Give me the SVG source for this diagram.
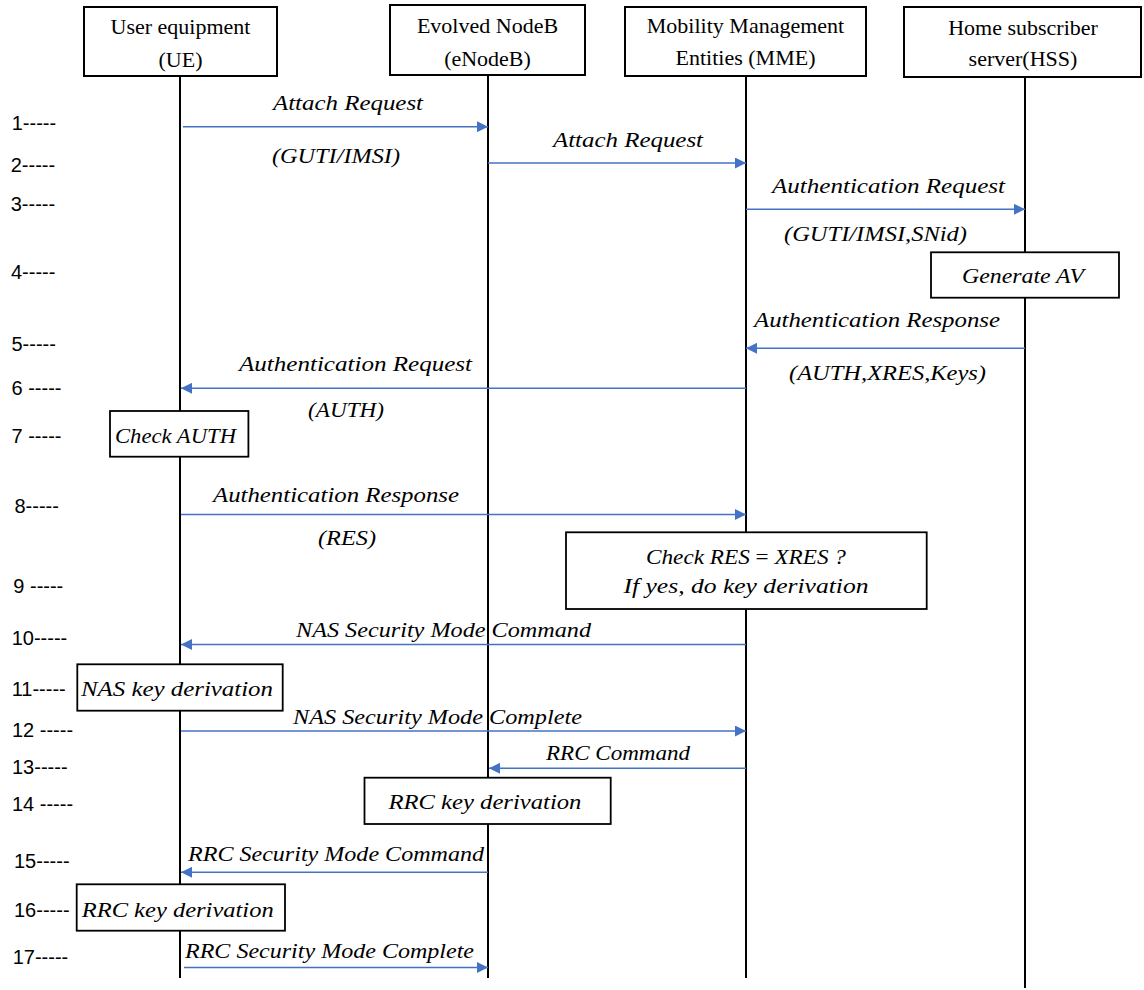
<svg xmlns="http://www.w3.org/2000/svg" width="1144" height="990" viewBox="0 0 1144 990">
<style>
.bg{fill:#ffffff}
.hbox{fill:#ffffff;stroke:#000000;stroke-width:2}
.abox{fill:#ffffff;stroke:#000000;stroke-width:1.8}
.life{stroke:#000000;stroke-width:2;fill:none}
.msg{stroke:#4472C4;stroke-width:1.5;fill:none}
.ht{font-family:"Liberation Serif","Times New Roman",serif;font-size:22px;fill:#000;text-anchor:middle}
.mt{font-family:"Liberation Serif","Times New Roman",serif;font-style:italic;font-size:22px;fill:#000}
.st{font-family:"Liberation Sans",Arial,sans-serif;font-size:20px;fill:#000}
.up{font-style:normal}
</style>
<defs>
<marker id="ah" viewBox="0 0 11 11" refX="11" refY="5.5" markerWidth="11" markerHeight="11" markerUnits="userSpaceOnUse" orient="auto">
<path d="M0,0 L11,5.5 L0,11 z" fill="#4472C4"/>
</marker>
</defs>
<rect class="bg" x="0" y="0" width="1144" height="990"/>

<g id="lifelines">
<line class="life" x1="180" y1="76" x2="180" y2="978"/>
<line class="life" x1="488" y1="75" x2="488" y2="978"/>
<line class="life" x1="746" y1="76" x2="746" y2="978"/>
<line class="life" x1="1025" y1="77" x2="1025" y2="988"/>
</g>

<g id="node-ue">
<rect class="hbox" x="84" y="7" width="193" height="69"/>
<text class="ht" x="180.5" y="34">User equipment</text>
<text class="ht" x="180.5" y="67">(UE)</text>
</g>
<g id="node-enodeb">
<rect class="hbox" x="390" y="5" width="195" height="70"/>
<text class="ht" x="487.5" y="33">Evolved NodeB</text>
<text class="ht" x="487.5" y="66">(eNodeB)</text>
</g>
<g id="node-mme">
<rect class="hbox" x="625" y="7" width="241" height="69"/>
<text class="ht" x="745.5" y="33">Mobility Management</text>
<text class="ht" x="745.5" y="65">Entities (MME)</text>
</g>
<g id="node-hss">
<rect class="hbox" x="904" y="7" width="237" height="70"/>
<text class="ht" x="1023" y="35">Home subscriber</text>
<text class="ht" x="1023" y="66">server(HSS)</text>
</g>

<g id="connectors">
<line class="msg" x1="183" y1="126.7" x2="488" y2="126.7" marker-end="url(#ah)"/>
<line class="msg" x1="488" y1="163" x2="746" y2="163" marker-end="url(#ah)"/>
<line class="msg" x1="746" y1="209.3" x2="1025" y2="209.3" marker-end="url(#ah)"/>
<line class="msg" x1="1025" y1="348.3" x2="746" y2="348.3" marker-end="url(#ah)"/>
<line class="msg" x1="746" y1="388.3" x2="181" y2="388.3" marker-end="url(#ah)"/>
<line class="msg" x1="181" y1="514.5" x2="746" y2="514.5" marker-end="url(#ah)"/>
<line class="msg" x1="746" y1="644.5" x2="181" y2="644.5" marker-end="url(#ah)"/>
<line class="msg" x1="181" y1="731" x2="746" y2="731" marker-end="url(#ah)"/>
<line class="msg" x1="746" y1="768.3" x2="489" y2="768.3" marker-end="url(#ah)"/>
<line class="msg" x1="488" y1="872.3" x2="181" y2="872.3" marker-end="url(#ah)"/>
<line class="msg" x1="184" y1="967.5" x2="488" y2="967.5" marker-end="url(#ah)"/>
</g>

<g id="message-labels">
<text class="mt" x="273" y="110" textLength="150" lengthAdjust="spacingAndGlyphs">Attach Request</text>
<text class="mt" x="272" y="163" textLength="128" lengthAdjust="spacingAndGlyphs">(GUTI/IMSI)</text>
<text class="mt" x="553" y="146.7" textLength="150" lengthAdjust="spacingAndGlyphs">Attach Request</text>
<text class="mt" x="772" y="192.7" textLength="233" lengthAdjust="spacingAndGlyphs">Authentication Request</text>
<text class="mt" x="784" y="240.7" textLength="183" lengthAdjust="spacingAndGlyphs">(GUTI/IMSI,SNid)</text>
<text class="mt" x="754" y="327.3" textLength="246" lengthAdjust="spacingAndGlyphs">Authentication Response</text>
<text class="mt" x="789" y="380" textLength="197" lengthAdjust="spacingAndGlyphs">(AUTH,XRES,Keys)</text>
<text class="mt" x="239" y="370.7" textLength="233" lengthAdjust="spacingAndGlyphs">Authentication Request</text>
<text class="mt" x="308" y="416.7" textLength="76" lengthAdjust="spacingAndGlyphs">(AUTH)</text>
<text class="mt" x="213" y="501.7" textLength="246" lengthAdjust="spacingAndGlyphs">Authentication Response</text>
<text class="mt" x="318" y="545" textLength="58" lengthAdjust="spacingAndGlyphs">(RES)</text>
<text class="mt" x="296" y="636.7" textLength="295" lengthAdjust="spacingAndGlyphs">NAS Security Mode Command</text>
<text class="mt" x="293" y="724.3" textLength="289" lengthAdjust="spacingAndGlyphs">NAS Security Mode Complete</text>
<text class="mt" x="546" y="760" textLength="144" lengthAdjust="spacingAndGlyphs">RRC Command</text>
<text class="mt" x="188" y="860.7" textLength="296" lengthAdjust="spacingAndGlyphs">RRC Security Mode Command</text>
<text class="mt" x="185" y="958.3" textLength="289" lengthAdjust="spacingAndGlyphs">RRC Security Mode Complete</text>
</g>

<g id="box-generate-av">
<rect class="abox" x="931" y="252.3" width="188" height="45.4"/>
<text class="mt" x="962" y="283.3" textLength="122" lengthAdjust="spacingAndGlyphs">Generate AV</text>
</g>
<g id="box-check-auth">
<rect class="abox" x="110" y="411" width="138.4" height="45.7"/>
<text class="mt" x="115" y="442.7" textLength="121" lengthAdjust="spacingAndGlyphs">Check AUTH</text>
</g>
<g id="box-check-res">
<rect class="abox" x="566" y="532.3" width="360.7" height="76.7"/>
<text class="mt" x="646" y="564" textLength="200" lengthAdjust="spacingAndGlyphs">Check RES <tspan class="up">=</tspan> XRES ?</text>
<text class="mt" x="623.5" y="592.7" textLength="245" lengthAdjust="spacingAndGlyphs">If yes, do key derivation</text>
</g>
<g id="box-nas-key-ue">
<rect class="abox" x="77.3" y="664.3" width="205.4" height="46.4"/>
<text class="mt" x="81" y="695.7" textLength="192" lengthAdjust="spacingAndGlyphs">NAS key derivation</text>
</g>
<g id="box-rrc-key-enb">
<rect class="abox" x="364.5" y="777.7" width="246.2" height="46.3"/>
<text class="mt" x="388.4" y="809.3" textLength="193" lengthAdjust="spacingAndGlyphs">RRC key derivation</text>
</g>
<g id="box-rrc-key-ue">
<rect class="abox" x="76.7" y="884.3" width="208.3" height="46.4"/>
<text class="mt" x="81.7" y="916.7" textLength="192" lengthAdjust="spacingAndGlyphs">RRC key derivation</text>
</g>

<g id="step-labels">
<text class="st" x="11.7" y="130">1-----</text>
<text class="st" x="10.7" y="171.7">2-----</text>
<text class="st" x="10.7" y="211">3-----</text>
<text class="st" x="11" y="279">4-----</text>
<text class="st" x="11.5" y="350.7">5-----</text>
<text class="st" x="11.5" y="395">6 -----</text>
<text class="st" x="11.5" y="443">7 -----</text>
<text class="st" x="14.5" y="513">8-----</text>
<text class="st" x="13.3" y="593.3">9 -----</text>
<text class="st" x="11.7" y="645">10-----</text>
<text class="st" x="11.7" y="695.7">11-----</text>
<text class="st" x="12" y="737.3">12 -----</text>
<text class="st" x="12" y="774">13-----</text>
<text class="st" x="12" y="810.7">14 -----</text>
<text class="st" x="14" y="868.3">15-----</text>
<text class="st" x="14" y="917.3">16-----</text>
<text class="st" x="12.7" y="964.3">17-----</text>
</g>
</svg>
